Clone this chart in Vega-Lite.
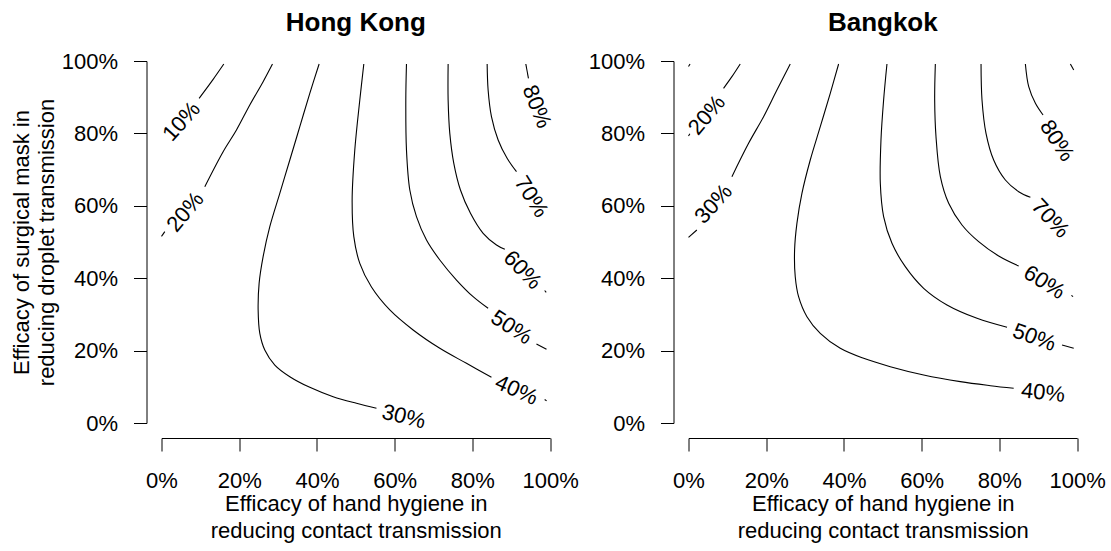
{
  "$schema": "https://vega.github.io/schema/vega-lite/v6.json",
  "background": "white",
  "padding": {"left": 9.5, "top": 10, "right": 5, "bottom": 5},
  "bounds": "flush",
  "spacing": 138,
  "datasets": {
    "lines": [
      {"city":"Hong Kong","seg":"HK10a","i":0,"x":16.03,"y":99.17},
      {"city":"Hong Kong","seg":"HK10a","i":1,"x":13.29,"y":94.94},
      {"city":"Hong Kong","seg":"HK10a","i":2,"x":9.68,"y":89.69},
      {"city":"Hong Kong","seg":"HK20a","i":0,"x":28.56,"y":99.17},
      {"city":"Hong Kong","seg":"HK20a","i":1,"x":26.15,"y":94.29},
      {"city":"Hong Kong","seg":"HK20a","i":2,"x":22.72,"y":87.85},
      {"city":"Hong Kong","seg":"HK20a","i":3,"x":19.29,"y":80.94},
      {"city":"Hong Kong","seg":"HK20a","i":4,"x":15.86,"y":74.95},
      {"city":"Hong Kong","seg":"HK20a","i":5,"x":11.14,"y":65.29},
      {"city":"Hong Kong","seg":"HK20b","i":0,"x":0.85,"y":52.85},
      {"city":"Hong Kong","seg":"HK20b","i":1,"x":0.0,"y":51.55},
      {"city":"Hong Kong","seg":"HK30a","i":0,"x":40.56,"y":99.17},
      {"city":"Hong Kong","seg":"HK30a","i":1,"x":38.16,"y":91.07},
      {"city":"Hong Kong","seg":"HK30a","i":2,"x":35.59,"y":81.86},
      {"city":"Hong Kong","seg":"HK30a","i":3,"x":33.02,"y":72.65},
      {"city":"Hong Kong","seg":"HK30a","i":4,"x":30.44,"y":63.44},
      {"city":"Hong Kong","seg":"HK30a","i":5,"x":27.87,"y":54.23},
      {"city":"Hong Kong","seg":"HK30a","i":6,"x":26.15,"y":45.95},
      {"city":"Hong Kong","seg":"HK30a","i":7,"x":25.12,"y":38.58},
      {"city":"Hong Kong","seg":"HK30a","i":8,"x":24.87,"y":31.22},
      {"city":"Hong Kong","seg":"HK30a","i":9,"x":25.30,"y":24.77},
      {"city":"Hong Kong","seg":"HK30a","i":10,"x":26.58,"y":20.17},
      {"city":"Hong Kong","seg":"HK30a","i":11,"x":29.16,"y":16.02},
      {"city":"Hong Kong","seg":"HK30a","i":12,"x":33.02,"y":12.80},
      {"city":"Hong Kong","seg":"HK30a","i":13,"x":38.16,"y":9.85},
      {"city":"Hong Kong","seg":"HK30a","i":14,"x":44.17,"y":7.27},
      {"city":"Hong Kong","seg":"HK30a","i":15,"x":50.17,"y":5.43},
      {"city":"Hong Kong","seg":"HK30a","i":16,"x":55.32,"y":4.05},
      {"city":"Hong Kong","seg":"HK40a","i":0,"x":52.06,"y":99.17},
      {"city":"Hong Kong","seg":"HK40a","i":1,"x":51.03,"y":89.23},
      {"city":"Hong Kong","seg":"HK40a","i":2,"x":49.74,"y":75.41},
      {"city":"Hong Kong","seg":"HK40a","i":3,"x":49.06,"y":61.60},
      {"city":"Hong Kong","seg":"HK40a","i":4,"x":49.49,"y":51.47},
      {"city":"Hong Kong","seg":"HK40a","i":5,"x":51.03,"y":44.09},
      {"city":"Hong Kong","seg":"HK40a","i":6,"x":54.03,"y":37.55},
      {"city":"Hong Kong","seg":"HK40a","i":7,"x":58.75,"y":31.22},
      {"city":"Hong Kong","seg":"HK40a","i":8,"x":64.75,"y":25.69},
      {"city":"Hong Kong","seg":"HK40a","i":9,"x":71.62,"y":20.63},
      {"city":"Hong Kong","seg":"HK40a","i":10,"x":78.48,"y":16.48},
      {"city":"Hong Kong","seg":"HK40a","i":11,"x":84.91,"y":12.61},
      {"city":"Hong Kong","seg":"HK40b","i":0,"x":98.6,"y":6.5},
      {"city":"Hong Kong","seg":"HK40b","i":1,"x":99.1,"y":6.1},
      {"city":"Hong Kong","seg":"HK50a","i":0,"x":63.04,"y":99.17},
      {"city":"Hong Kong","seg":"HK50a","i":1,"x":62.87,"y":89.23},
      {"city":"Hong Kong","seg":"HK50a","i":2,"x":63.04,"y":75.41},
      {"city":"Hong Kong","seg":"HK50a","i":3,"x":63.90,"y":64.36},
      {"city":"Hong Kong","seg":"HK50a","i":4,"x":65.61,"y":57.00},
      {"city":"Hong Kong","seg":"HK50a","i":5,"x":68.19,"y":50.55},
      {"city":"Hong Kong","seg":"HK50a","i":6,"x":71.62,"y":45.03},
      {"city":"Hong Kong","seg":"HK50a","i":7,"x":75.91,"y":39.50},
      {"city":"Hong Kong","seg":"HK50a","i":8,"x":80.19,"y":34.90},
      {"city":"Hong Kong","seg":"HK50a","i":9,"x":84.05,"y":31.68},
      {"city":"Hong Kong","seg":"HK50b","i":0,"x":96.49,"y":21.82},
      {"city":"Hong Kong","seg":"HK50b","i":1,"x":99.07,"y":20.35},
      {"city":"Hong Kong","seg":"HK60a","i":0,"x":73.76,"y":99.17},
      {"city":"Hong Kong","seg":"HK60a","i":1,"x":73.76,"y":89.23},
      {"city":"Hong Kong","seg":"HK60a","i":2,"x":74.19,"y":80.02},
      {"city":"Hong Kong","seg":"HK60a","i":3,"x":75.22,"y":71.73},
      {"city":"Hong Kong","seg":"HK60a","i":4,"x":76.93,"y":64.36},
      {"city":"Hong Kong","seg":"HK60a","i":5,"x":79.51,"y":57.92},
      {"city":"Hong Kong","seg":"HK60a","i":6,"x":82.77,"y":52.39},
      {"city":"Hong Kong","seg":"HK60a","i":7,"x":86.20,"y":49.17},
      {"city":"Hong Kong","seg":"HK60a","i":8,"x":88.35,"y":47.97},
      {"city":"Hong Kong","seg":"HK60b","i":0,"x":98.6,"y":36.6},
      {"city":"Hong Kong","seg":"HK60b","i":1,"x":99.0,"y":36.1},
      {"city":"Hong Kong","seg":"HK70a","i":0,"x":83.80,"y":99.17},
      {"city":"Hong Kong","seg":"HK70a","i":1,"x":84.05,"y":91.99},
      {"city":"Hong Kong","seg":"HK70a","i":2,"x":84.91,"y":84.62},
      {"city":"Hong Kong","seg":"HK70a","i":3,"x":86.63,"y":78.18},
      {"city":"Hong Kong","seg":"HK70a","i":4,"x":88.94,"y":73.11},
      {"city":"Hong Kong","seg":"HK70a","i":5,"x":91.35,"y":69.43},
      {"city":"Hong Kong","seg":"HK80a","i":0,"x":93.75,"y":99.17},
      {"city":"Hong Kong","seg":"HK80a","i":1,"x":94.43,"y":95.21},
      {"city":"Bangkok","seg":"BK10a","i":0,"x":0.0,"y":98.5},
      {"city":"Bangkok","seg":"BK10a","i":1,"x":0.4,"y":99.17},
      {"city":"Bangkok","seg":"BK20a","i":0,"x":13.31,"y":99.17},
      {"city":"Bangkok","seg":"BK20a","i":1,"x":11.17,"y":95.67},
      {"city":"Bangkok","seg":"BK20a","i":2,"x":9.02,"y":92.45},
      {"city":"Bangkok","seg":"BK20b","i":0,"x":0.0,"y":79.3},
      {"city":"Bangkok","seg":"BK20b","i":1,"x":0.35,"y":79.9},
      {"city":"Bangkok","seg":"BK30a","i":0,"x":26.18,"y":99.17},
      {"city":"Bangkok","seg":"BK30a","i":1,"x":22.75,"y":91.99},
      {"city":"Bangkok","seg":"BK30a","i":2,"x":19.32,"y":84.62},
      {"city":"Bangkok","seg":"BK30a","i":3,"x":15.46,"y":77.26},
      {"city":"Bangkok","seg":"BK30a","i":4,"x":11.17,"y":68.05},
      {"city":"Bangkok","seg":"BK30b","i":0,"x":2.15,"y":53.31},
      {"city":"Bangkok","seg":"BK30b","i":1,"x":0.0,"y":51.29},
      {"city":"Bangkok","seg":"BK40a","i":0,"x":38.63,"y":99.17},
      {"city":"Bangkok","seg":"BK40a","i":1,"x":36.48,"y":91.07},
      {"city":"Bangkok","seg":"BK40a","i":2,"x":33.91,"y":81.86},
      {"city":"Bangkok","seg":"BK40a","i":3,"x":31.33,"y":72.65},
      {"city":"Bangkok","seg":"BK40a","i":4,"x":29.19,"y":63.44},
      {"city":"Bangkok","seg":"BK40a","i":5,"x":27.90,"y":55.16},
      {"city":"Bangkok","seg":"BK40a","i":6,"x":27.30,"y":47.79},
      {"city":"Bangkok","seg":"BK40a","i":7,"x":27.47,"y":40.42},
      {"city":"Bangkok","seg":"BK40a","i":8,"x":28.33,"y":34.90},
      {"city":"Bangkok","seg":"BK40a","i":9,"x":30.48,"y":29.37},
      {"city":"Bangkok","seg":"BK40a","i":10,"x":33.91,"y":24.77},
      {"city":"Bangkok","seg":"BK40a","i":11,"x":39.06,"y":20.63},
      {"city":"Bangkok","seg":"BK40a","i":12,"x":45.06,"y":17.86},
      {"city":"Bangkok","seg":"BK40a","i":13,"x":51.93,"y":15.56},
      {"city":"Bangkok","seg":"BK40a","i":14,"x":60.51,"y":13.26},
      {"city":"Bangkok","seg":"BK40a","i":15,"x":69.95,"y":11.42},
      {"city":"Bangkok","seg":"BK40a","i":16,"x":77.68,"y":10.31},
      {"city":"Bangkok","seg":"BK40a","i":17,"x":83.68,"y":9.58},
      {"city":"Bangkok","seg":"BK50a","i":0,"x":51.07,"y":99.17},
      {"city":"Bangkok","seg":"BK50a","i":1,"x":50.21,"y":89.23},
      {"city":"Bangkok","seg":"BK50a","i":2,"x":49.53,"y":78.18},
      {"city":"Bangkok","seg":"BK50a","i":3,"x":49.36,"y":66.21},
      {"city":"Bangkok","seg":"BK50a","i":4,"x":50.21,"y":57.00},
      {"city":"Bangkok","seg":"BK50a","i":5,"x":52.36,"y":49.63},
      {"city":"Bangkok","seg":"BK50a","i":6,"x":55.79,"y":43.18},
      {"city":"Bangkok","seg":"BK50a","i":7,"x":60.51,"y":37.20},
      {"city":"Bangkok","seg":"BK50a","i":8,"x":66.52,"y":32.60},
      {"city":"Bangkok","seg":"BK50a","i":9,"x":74.25,"y":28.91},
      {"city":"Bangkok","seg":"BK50a","i":10,"x":81.97,"y":26.43},
      {"city":"Bangkok","seg":"BK50b","i":0,"x":96.13,"y":21.55},
      {"city":"Bangkok","seg":"BK50b","i":1,"x":99.13,"y":20.63},
      {"city":"Bangkok","seg":"BK60a","i":0,"x":63.52,"y":99.17},
      {"city":"Bangkok","seg":"BK60a","i":1,"x":63.35,"y":89.23},
      {"city":"Bangkok","seg":"BK60a","i":2,"x":63.69,"y":79.09},
      {"city":"Bangkok","seg":"BK60a","i":3,"x":64.81,"y":68.05},
      {"city":"Bangkok","seg":"BK60a","i":4,"x":66.95,"y":60.68},
      {"city":"Bangkok","seg":"BK60a","i":5,"x":70.38,"y":54.70},
      {"city":"Bangkok","seg":"BK60a","i":6,"x":74.67,"y":50.09},
      {"city":"Bangkok","seg":"BK60a","i":7,"x":79.82,"y":46.13},
      {"city":"Bangkok","seg":"BK60a","i":8,"x":84.97,"y":43.37},
      {"city":"Bangkok","seg":"BK60b","i":0,"x":98.53,"y":35.27},
      {"city":"Bangkok","seg":"BK60b","i":1,"x":98.96,"y":34.90},
      {"city":"Bangkok","seg":"BK70a","i":0,"x":75.28,"y":99.17},
      {"city":"Bangkok","seg":"BK70a","i":1,"x":75.53,"y":89.23},
      {"city":"Bangkok","seg":"BK70a","i":2,"x":76.56,"y":80.02},
      {"city":"Bangkok","seg":"BK70a","i":3,"x":78.53,"y":72.65},
      {"city":"Bangkok","seg":"BK70a","i":4,"x":81.54,"y":67.13},
      {"city":"Bangkok","seg":"BK70a","i":5,"x":84.97,"y":63.90},
      {"city":"Bangkok","seg":"BK70a","i":6,"x":87.98,"y":62.34},
      {"city":"Bangkok","seg":"BK80a","i":0,"x":86.69,"y":99.17},
      {"city":"Bangkok","seg":"BK80a","i":1,"x":87.55,"y":92.91},
      {"city":"Bangkok","seg":"BK80a","i":2,"x":89.27,"y":88.31},
      {"city":"Bangkok","seg":"BK80a","i":3,"x":91.24,"y":85.08},
      {"city":"Bangkok","seg":"BK90a","i":0,"x":98.27,"y":99.17},
      {"city":"Bangkok","seg":"BK90a","i":1,"x":99.13,"y":97.51}
    ],
    "labels": [
      {"city":"Hong Kong","level":"10%","x":5.14,"y":83.3},
      {"city":"Hong Kong","level":"20%","x":6.1,"y":58.3},
      {"city":"Hong Kong","level":"30%","x":62.35,"y":1.75},
      {"city":"Hong Kong","level":"40%","x":91.35,"y":9.12},
      {"city":"Hong Kong","level":"50%","x":90.06,"y":26.42},
      {"city":"Hong Kong","level":"60%","x":92.89,"y":42.27},
      {"city":"Hong Kong","level":"70%","x":95.2,"y":62.5},
      {"city":"Hong Kong","level":"80%","x":96.6,"y":87.4},
      {"city":"Bangkok","level":"20%","x":4.73,"y":85.08},
      {"city":"Bangkok","level":"30%","x":6.44,"y":60.5},
      {"city":"Bangkok","level":"40%","x":91.24,"y":8.38},
      {"city":"Bangkok","level":"50%","x":89.01,"y":23.66},
      {"city":"Bangkok","level":"60%","x":91.58,"y":38.86},
      {"city":"Bangkok","level":"70%","x":93.13,"y":56.54},
      {"city":"Bangkok","level":"80%","x":94.84,"y":78.0}
    ]
  },
  "hconcat": [
    {
      "title": {"text": "Hong Kong", "offset": 14},
      "width": 388.6,
      "height": 362,
      "encoding": {
        "x": {"field": "x", "type": "quantitative",
              "scale": {"domain": [0, 100], "nice": false, "zero": false},
              "axis": {"values": [0, 20, 40, 60, 80, 100], "labelExpr": "datum.value + '%'",
                       "labelPadding": 19, "title": ["Efficacy of hand hygiene in", "reducing contact transmission"],
                       "titlePadding": 2, "titleLineHeight": 27}},
        "y": {"field": "y", "type": "quantitative",
              "scale": {"domain": [0, 100], "nice": false, "zero": false},
              "axis": {"values": [0, 20, 40, 60, 80, 100], "labelExpr": "datum.value + '%'",
                       "labelPadding": 16, "title": ["Efficacy of surgical mask in", "reducing droplet transmission"],
                       "titlePadding": 3, "titleLineHeight": 25}}
      },
      "layer": [
        {"data": {"name": "lines"}, "transform": [{"filter": "datum.city === 'Hong Kong'"}],
         "mark": {"type": "line", "color": "black", "strokeWidth": 1.1, "interpolate": "catmull-rom"},
         "encoding": {"detail": {"field": "seg"}, "order": {"field": "i", "type": "quantitative"}}},
        {"data": {"name": "labels"}, "transform": [{"filter": "datum.city === 'Hong Kong' && datum.level === '10%'"}],
         "mark": {"type": "text", "angle": 312, "fontSize": 22, "align": "center", "baseline": "middle", "color": "black"},
         "encoding": {"text": {"field": "level"}}},
        {"data": {"name": "labels"}, "transform": [{"filter": "datum.city === 'Hong Kong' && datum.level === '20%'"}],
         "mark": {"type": "text", "angle": 310, "fontSize": 22, "align": "center", "baseline": "middle", "color": "black"},
         "encoding": {"text": {"field": "level"}}},
        {"data": {"name": "labels"}, "transform": [{"filter": "datum.city === 'Hong Kong' && datum.level === '30%'"}],
         "mark": {"type": "text", "angle": 14, "fontSize": 22, "align": "center", "baseline": "middle", "color": "black"},
         "encoding": {"text": {"field": "level"}}},
        {"data": {"name": "labels"}, "transform": [{"filter": "datum.city === 'Hong Kong' && datum.level === '40%'"}],
         "mark": {"type": "text", "angle": 24, "fontSize": 22, "align": "center", "baseline": "middle", "color": "black"},
         "encoding": {"text": {"field": "level"}}},
        {"data": {"name": "labels"}, "transform": [{"filter": "datum.city === 'Hong Kong' && datum.level === '50%'"}],
         "mark": {"type": "text", "angle": 33, "fontSize": 22, "align": "center", "baseline": "middle", "color": "black"},
         "encoding": {"text": {"field": "level"}}},
        {"data": {"name": "labels"}, "transform": [{"filter": "datum.city === 'Hong Kong' && datum.level === '60%'"}],
         "mark": {"type": "text", "angle": 46, "fontSize": 22, "align": "center", "baseline": "middle", "color": "black"},
         "encoding": {"text": {"field": "level"}}},
        {"data": {"name": "labels"}, "transform": [{"filter": "datum.city === 'Hong Kong' && datum.level === '70%'"}],
         "mark": {"type": "text", "angle": 58, "fontSize": 22, "align": "center", "baseline": "middle", "color": "black"},
         "encoding": {"text": {"field": "level"}}},
        {"data": {"name": "labels"}, "transform": [{"filter": "datum.city === 'Hong Kong' && datum.level === '80%'"}],
         "mark": {"type": "text", "angle": 68, "fontSize": 22, "align": "center", "baseline": "middle", "color": "black"},
         "encoding": {"text": {"field": "level"}}}
      ]
    },
    {
      "title": {"text": "Bangkok", "offset": 14},
      "width": 388.6,
      "height": 362,
      "encoding": {
        "x": {"field": "x", "type": "quantitative",
              "scale": {"domain": [0, 100], "nice": false, "zero": false},
              "axis": {"values": [0, 20, 40, 60, 80, 100], "labelExpr": "datum.value + '%'",
                       "labelPadding": 19, "title": ["Efficacy of hand hygiene in", "reducing contact transmission"],
                       "titlePadding": 2, "titleLineHeight": 27}},
        "y": {"field": "y", "type": "quantitative",
              "scale": {"domain": [0, 100], "nice": false, "zero": false},
              "axis": {"values": [0, 20, 40, 60, 80, 100], "labelExpr": "datum.value + '%'",
                       "labelPadding": 16, "title": null}}
      },
      "layer": [
        {"data": {"name": "lines"}, "transform": [{"filter": "datum.city === 'Bangkok'"}],
         "mark": {"type": "line", "color": "black", "strokeWidth": 1.1, "interpolate": "catmull-rom"},
         "encoding": {"detail": {"field": "seg"}, "order": {"field": "i", "type": "quantitative"}}},
        {"data": {"name": "labels"}, "transform": [{"filter": "datum.city === 'Bangkok' && datum.level === '20%'"}],
         "mark": {"type": "text", "angle": 310, "fontSize": 22, "align": "center", "baseline": "middle", "color": "black"},
         "encoding": {"text": {"field": "level"}}},
        {"data": {"name": "labels"}, "transform": [{"filter": "datum.city === 'Bangkok' && datum.level === '30%'"}],
         "mark": {"type": "text", "angle": 312, "fontSize": 22, "align": "center", "baseline": "middle", "color": "black"},
         "encoding": {"text": {"field": "level"}}},
        {"data": {"name": "labels"}, "transform": [{"filter": "datum.city === 'Bangkok' && datum.level === '40%'"}],
         "mark": {"type": "text", "angle": 6, "fontSize": 22, "align": "center", "baseline": "middle", "color": "black"},
         "encoding": {"text": {"field": "level"}}},
        {"data": {"name": "labels"}, "transform": [{"filter": "datum.city === 'Bangkok' && datum.level === '50%'"}],
         "mark": {"type": "text", "angle": 20, "fontSize": 22, "align": "center", "baseline": "middle", "color": "black"},
         "encoding": {"text": {"field": "level"}}},
        {"data": {"name": "labels"}, "transform": [{"filter": "datum.city === 'Bangkok' && datum.level === '60%'"}],
         "mark": {"type": "text", "angle": 32, "fontSize": 22, "align": "center", "baseline": "middle", "color": "black"},
         "encoding": {"text": {"field": "level"}}},
        {"data": {"name": "labels"}, "transform": [{"filter": "datum.city === 'Bangkok' && datum.level === '70%'"}],
         "mark": {"type": "text", "angle": 47, "fontSize": 22, "align": "center", "baseline": "middle", "color": "black"},
         "encoding": {"text": {"field": "level"}}},
        {"data": {"name": "labels"}, "transform": [{"filter": "datum.city === 'Bangkok' && datum.level === '80%'"}],
         "mark": {"type": "text", "angle": 57, "fontSize": 22, "align": "center", "baseline": "middle", "color": "black"},
         "encoding": {"text": {"field": "level"}}}
      ]
    }
  ],
  "config": {
    "font": "Liberation Sans",
    "view": {"stroke": null},
    "text": {"font": "Liberation Sans"},
    "axis": {"grid": false, "domainColor": "black", "tickColor": "black", "labelColor": "black", "titleColor": "black",
             "labelFontSize": 22, "titleFontSize": 22, "titleFontWeight": "normal", "tickSize": 13, "offset": 15,
             "labelFont": "Liberation Sans", "titleFont": "Liberation Sans", "domainWidth": 1, "tickWidth": 1,
             "labelFlush": false, "labelOverlap": false},
    "title": {"fontSize": 26, "fontWeight": "bold", "color": "black", "font": "Liberation Sans", "anchor": "middle"}
  }
}
